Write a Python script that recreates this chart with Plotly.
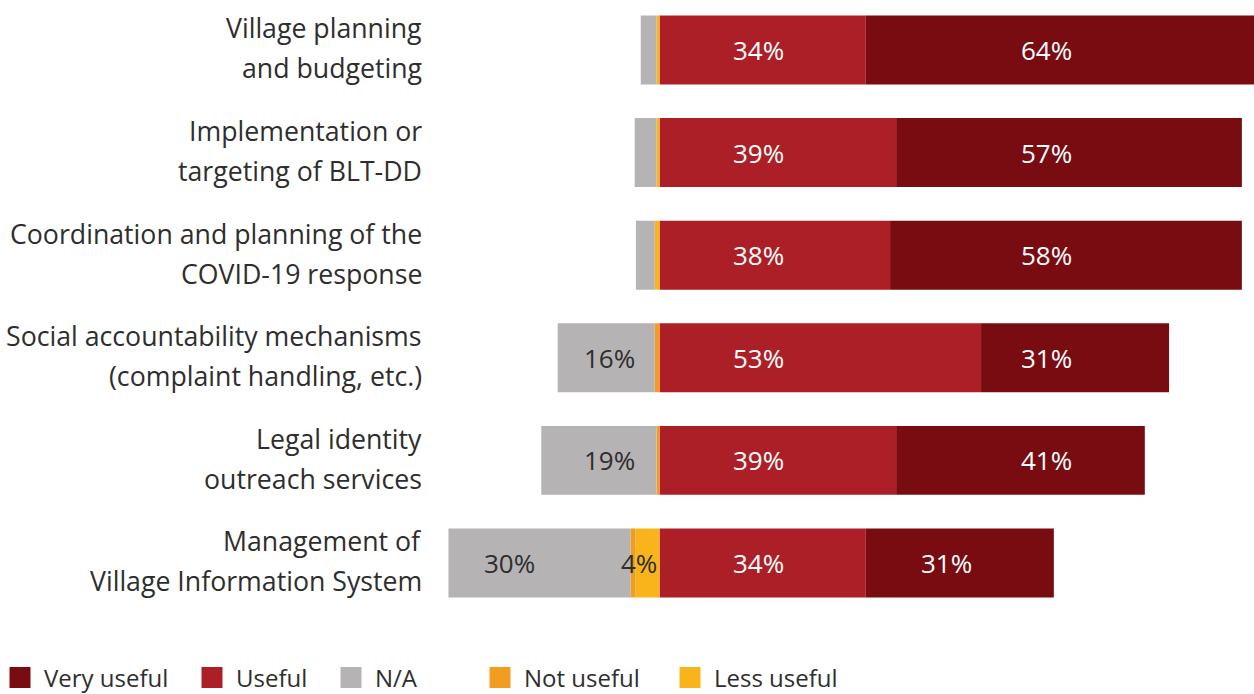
import plotly.graph_objects as go

# Survey rows (top to bottom) and shares in percent
categories = [
    "Village planning<br>and budgeting",
    "Implementation or<br>targeting of BLT-DD",
    "Coordination and planning of the<br>COVID-19 response",
    "Social accountability mechanisms<br>(complaint handling, etc.)",
    "Legal identity<br>outreach services",
    "Management of<br>Village Information System",
]
very_useful = [64, 57, 58, 31, 41, 31]
useful = [34, 39, 38, 53, 39, 34]
not_applicable = [2.6, 3.6, 3.1, 16, 19, 30]
not_useful = [0, 0, 0, 0.8, 0.5, 0.8]
less_useful = [0.5, 0.5, 0.8, 0, 0, 4]

# Shares printed on the bars (None = no label)
very_useful_labels = [64, 57, 58, 31, 41, 31]
useful_labels = [34, 39, 38, 53, 39, 34]
na_labels = [None, None, None, 16, 19, 30]
less_labels = [None, None, None, None, None, 4]

# Where each printed share sits along the x axis (in %)
very_useful_label_x = [63.8, 63.8, 63.8, 63.8, 63.8, 47.3]
useful_label_x = [16.3] * 6
na_label_x = [None, None, None, -8.3, -8.3, -24.8]
less_label_x = [None, None, None, None, None, -3.4]

COLORS = {
    "Very useful": "#780c10",
    "Useful": "#ad1f26",
    "N/A": "#b5b3b4",
    "Not useful": "#f39c22",
    "Less useful": "#fab41b",
}
FONT = "Open Sans"
TEXT_DARK = "#2e2e2e"

y_idx = list(range(len(categories)))
BAR_W = 0.672

fig = go.Figure()

# Positive side: Useful next to zero, then Very useful
fig.add_trace(go.Bar(y=y_idx, x=useful, orientation="h", width=BAR_W,
                     marker=dict(color=COLORS["Useful"], line_width=0),
                     showlegend=False, name="Useful"))
fig.add_trace(go.Bar(y=y_idx, x=very_useful, orientation="h", width=BAR_W,
                     marker=dict(color=COLORS["Very useful"], line_width=0),
                     showlegend=False, name="Very useful"))
# Negative side: Less useful next to zero, then Not useful, then N/A
fig.add_trace(go.Bar(y=y_idx, x=[-v for v in less_useful], orientation="h", width=BAR_W,
                     marker=dict(color=COLORS["Less useful"], line_width=0),
                     showlegend=False, name="Less useful"))
fig.add_trace(go.Bar(y=y_idx, x=[-v for v in not_useful], orientation="h", width=BAR_W,
                     marker=dict(color=COLORS["Not useful"], line_width=0),
                     showlegend=False, name="Not useful"))
fig.add_trace(go.Bar(y=y_idx, x=[-v for v in not_applicable], orientation="h", width=BAR_W,
                     marker=dict(color=COLORS["N/A"], line_width=0),
                     showlegend=False, name="N/A"))

# Legend entries, each in its own legend box along the bottom
legend_order = ["Very useful", "Useful", "N/A", "Not useful", "Less useful"]
legend_px = [20, 212, 351, 500, 690]  # swatch centres, px from left edge
PLOT_L, PLOT_W, PLOT_H = 440, 814, 620
legend_layout = {}
for i, (name, px) in enumerate(zip(legend_order, legend_px)):
    key = "legend" if i == 0 else f"legend{i + 1}"
    fig.add_trace(go.Scatter(
        x=[None], y=[None], mode="markers", name=name, legend=key,
        marker=dict(symbol="square", size=16, color=COLORS[name],
                    line=dict(color=COLORS[name], width=5)),
    ))
    legend_layout[key] = dict(
        x=(px - 24 - PLOT_L) / PLOT_W, xanchor="left",
        y=1 - 678 / PLOT_H, yanchor="middle",
        orientation="h", itemsizing="trace", itemwidth=38,
        font=dict(family=FONT, size=24, color=TEXT_DARK),
        bgcolor="rgba(0,0,0,0)", borderwidth=0,
    )

annotations = []
def value_label(x, y, v, color):
    annotations.append(dict(x=x, y=y, xref="x", yref="y", text=f"{v:g}%",
                            showarrow=False, xanchor="center", yanchor="middle",
                            font=dict(family=FONT, size=26, color=color)))

for i in y_idx:
    value_label(useful_label_x[i], i, useful_labels[i], "white")
    value_label(very_useful_label_x[i], i, very_useful_labels[i], "white")
    if na_labels[i] is not None:
        value_label(na_label_x[i], i, na_labels[i], TEXT_DARK)
    if less_labels[i] is not None:
        value_label(less_label_x[i], i, less_labels[i], TEXT_DARK)

# Category labels, two lines each, right-aligned left of the bars
for i, cat in enumerate(categories):
    lines = cat.split("<br>")
    for j, line in enumerate(lines):
        annotations.append(dict(
            x=0, y=i, xref="paper", yref="y", text=line, showarrow=False,
            xanchor="right", yanchor="middle", xshift=-16,
            yshift=22 - j * 40,
            font=dict(family=FONT, size=26.7, color=TEXT_DARK),
        ))

fig.update_layout(
    width=1254, height=694,
    margin=dict(l=PLOT_L, r=0, t=0, b=694 - PLOT_H, pad=0, autoexpand=False),
    barmode="relative",
    plot_bgcolor="white", paper_bgcolor="white",
    xaxis=dict(range=[-36.2, 98], visible=False, fixedrange=True),
    yaxis=dict(range=[5.556, -0.487], visible=False, fixedrange=True),
    annotations=annotations,
    font=dict(family=FONT, color=TEXT_DARK),
    **legend_layout,
)

fig.write_html("out.html")
